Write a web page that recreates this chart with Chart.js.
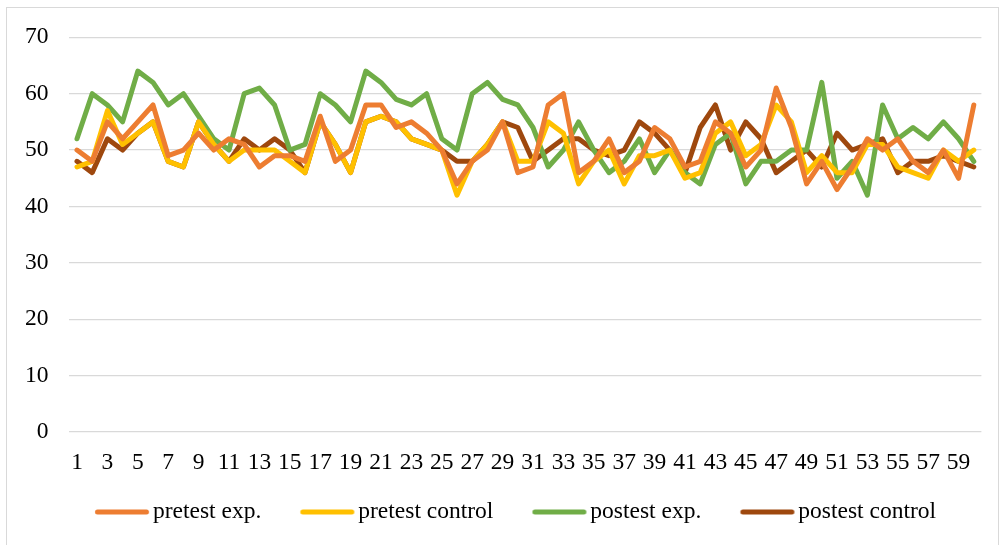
<!DOCTYPE html>
<html>
<head>
<meta charset="utf-8">
<script src="https://cdn.jsdelivr.net/npm/chart.js@4.4.1/dist/chart.umd.min.js"></script>
<style>
  html, body { margin: 0; padding: 0; background: #fff; }
  #wrap { position: absolute; left: 0; top: 0; width: 1003px; height: 545px; }
  #frame { position: absolute; left: 6px; top: 7px; width: 993px; height: 545px; border: 1px solid #D9D9D9; box-sizing: border-box; }
</style>
</head>
<body>
<div id="frame"></div>
<div id="wrap"><canvas id="c"></canvas></div>
<script>
const categories = Array.from({length: 60}, (_, i) => String(i + 1));

const pretestExp = [50,48,55,52,55,58,49,50,53,50, 52,51,47,49,49,48,56,48,50,58, 58,54,55,53,50,44,48,50,55,46, 47,58,60,46,48,52,46,48,54,52, 47,48,55,53,47,50,61,54,44,48, 43,47,52,50,52,48,46,50,45,58];
const pretestControl = [47,48,57,51,53,55,48,47,55,51, 48,50,50,50,48,46,55,51,46,55, 56,55,52,51,50,42,48,51,55,48, 48,55,53,44,48,50,44,49,49,50, 45,46,53,55,49,51,58,55,46,49, 46,46,51,51,47,46,45,50,48,50];
const postestExp = [52,60,58,55,64,62,58,60,56,52, 50,60,61,58,50,51,60,58,55,64, 62,59,58,60,52,50,60,62,59,58, 54,47,50,55,50,46,48,52,46,50, 46,44,51,53,44,48,48,50,50,62, 45,48,42,58,52,54,52,55,52,48];
const postestControl = [48,46,52,50,53,55,48,47,55,51, 48,52,50,52,50,46,55,51,46,55, 56,55,52,51,50,48,48,51,55,54, 48,50,52,52,50,49,50,55,53,50, 46,54,58,50,55,52,46,48,50,47, 53,50,51,52,46,48,48,49,48,47];

const seriesNames = ['pretest exp.', 'pretest control', 'postest exp.', 'postest control'];
const seriesColors = ['#ED7D31', '#FFC000', '#70AD47', '#9E480E'];
const seriesData = [pretestExp, pretestControl, postestExp, postestControl];

const yTicks = [0, 10, 20, 30, 40, 50, 60, 70];

const FONT = 'Liberation Serif, "Times New Roman", serif';
const FS = 23.5;
const LW = 5;
const SAMPLE = 54;          // legend line sample length
const BOXW = 58 - FS / 2;   // so text starts 4px after the sample
const IMGW = 110;
const LPAD = 39;

function legendImage(color) {
  const c = document.createElement('canvas');
  c.width = IMGW; c.height = 10;
  const g = c.getContext('2d');
  const a = IMGW / 2 - BOXW / 2;
  g.strokeStyle = color;
  g.lineWidth = LW;
  g.lineCap = 'round';
  g.beginPath();
  g.moveTo(a + LW / 2, 5);
  g.lineTo(a + SAMPLE - LW / 2, 5);
  g.stroke();
  return c;
}
const legendImgs = seriesColors.map(legendImage);

const datasets = seriesData.map((d, i) => ({
  label: seriesNames[i],
  data: d,
  borderColor: seriesColors[i],
  backgroundColor: seriesColors[i],
  borderWidth: LW,
  pointRadius: 0,
  pointHoverRadius: 0,
  tension: 0,
  fill: false,
  borderCapStyle: 'round',
  borderJoinStyle: 'round'
}));

const legendShift = {
  id: 'legendShift',
  afterLayout(chart) {
    const l = chart.legend;
    if (!l) return;
    const dx = 24.8;
    l.left += dx; l.right += dx;
    const top = 512 - l.options.labels.padding - FS / 2;
    const h = l.height;
    l.top = top; l.bottom = top + h;
  }
};

new Chart(document.getElementById('c'), {
  type: 'line',
  data: { labels: categories, datasets },
  plugins: [legendShift],
  options: {
    responsive: true,
    maintainAspectRatio: false,
    animation: false,
    events: [],
    layout: { padding: { left: 0, right: 21.6, top: 37.3, bottom: 0 } },
    plugins: {
      tooltip: { enabled: false },
      legend: {
        position: 'bottom',
        labels: {
          usePointStyle: true,
          pointStyleWidth: BOXW,
          boxHeight: 5,
          padding: LPAD,
          color: '#000',
          font: { family: FONT, size: FS },
          generateLabels(chart) {
            const items = Chart.defaults.plugins.legend.labels.generateLabels(chart);
            items.forEach(it => { it.pointStyle = legendImgs[it.datasetIndex]; });
            return items;
          }
        }
      }
    },
    scales: {
      x: {
        type: 'category',
        offset: true,
        grid: { display: false, drawTicks: false },
        border: { display: false },
        afterFit: (s) => { s.height = 545 - 432 - (FS + LPAD + 10); },
        ticks: {
          autoSkip: false,
          maxRotation: 0,
          minRotation: 0,
          padding: 17,
          color: '#000',
          font: { family: FONT, size: FS },
          callback: function(v, i) { return i % 2 === 0 ? categories[i] : ''; }
        }
      },
      y: {
        min: yTicks[0],
        max: yTicks[yTicks.length - 1],
        afterFit: (s) => { s.width = 69.4; },
        afterBuildTicks: (s) => { s.ticks = yTicks.map(v => ({ value: v })); },
        grid: { color: '#D9D9D9', lineWidth: 1.3, drawTicks: false },
        border: { display: false },
        ticks: {
          padding: 21,
          color: '#000',
          font: { family: FONT, size: FS }
        }
      }
    }
  }
});
</script>
</body>
</html>
